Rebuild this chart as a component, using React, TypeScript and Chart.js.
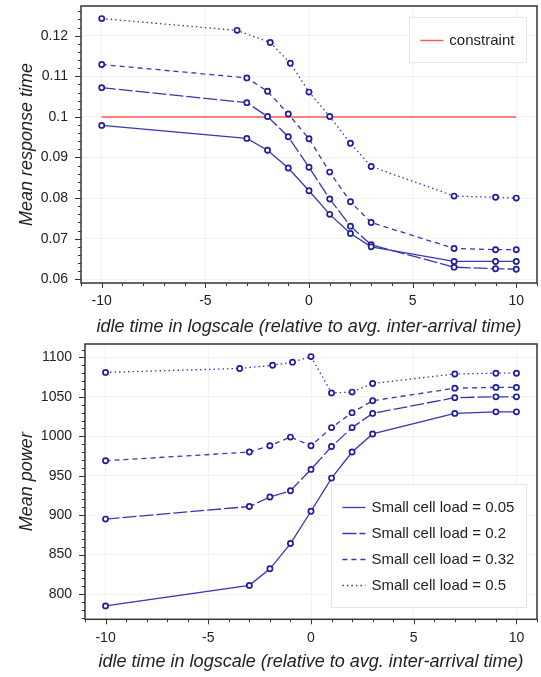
import React, { useEffect, useRef } from "react";
import { Chart, registerables } from "chart.js";

Chart.register(...registerables);

// ---------- data ----------
const xMain = [-10, -3, -2, -1, 0, 1, 2, 3, 7, 9, 10];
const xHighLoad = [-10, -3.47, -1.87, -0.9, 0, 1, 2, 3, 7, 9, 10];

const loadLabels = [
  "Small cell load = 0.05",
  "Small cell load = 0.2",
  "Small cell load = 0.32",
  "Small cell load = 0.5",
];

const respTime005 = [0.0979, 0.0947, 0.0918, 0.0874, 0.0818, 0.076, 0.0713, 0.068, 0.0644, 0.0644, 0.0644];
const respTime02 = [0.1072, 0.1035, 0.1001, 0.0951, 0.0876, 0.0798, 0.0731, 0.0685, 0.063, 0.0626, 0.0625];
const respTime032 = [0.1129, 0.1096, 0.1063, 0.1007, 0.0946, 0.0864, 0.0791, 0.074, 0.0676, 0.0673, 0.0673];
const respTime05 = [0.1242, 0.1213, 0.1183, 0.1132, 0.1061, 0.1001, 0.0935, 0.0878, 0.0805, 0.0802, 0.08];

const constraintLabel = "constraint";
const constraintX = [-10, 10];
const constraintY = [0.1, 0.1];

const power005 = [785, 811, 832, 864, 905, 947, 980, 1003, 1029, 1031, 1031];
const power02 = [895, 911, 923, 931, 958, 987, 1011, 1029, 1049, 1050, 1050];
const power032 = [969, 980, 988, 999, 988, 1011, 1030, 1045, 1061, 1062, 1062];
const power05 = [1081, 1086, 1090, 1094, 1101, 1055, 1056, 1067, 1079, 1080, 1080];

const xTitle = "idle time in logscale (relative to avg. inter-arrival time)";
const yTitleTop = "Mean response time";
const yTitleBottom = "Mean power";

// ---------- style ----------
const FONT = '"Liberation Sans", Arial, Helvetica, sans-serif';
const LINE = "rgb(55,55,175)";
const POINT = "rgb(30,30,155)";
const GRID = "rgba(0,0,0,0.05)";
const TEXT = "#222";
const DASHES = [[], [14, 3], [5, 4], [1.5, 3]];

function seriesDataset(label: string, xs: number[], ys: number[], dash: number[]) {
  return {
    label,
    data: xs.map((x, i) => ({ x, y: ys[i] })),
    borderColor: LINE,
    borderWidth: 1.3,
    borderDash: dash,
    pointRadius: 2.6,
    pointBorderWidth: 1.7,
    pointBackgroundColor: "#ffffff",
    pointBorderColor: POINT,
    pointHoverRadius: 2.6,
    fill: false,
    tension: 0,
  };
}

function stepTicks(step: number) {
  return (scale: any) => {
    const out: { value: number }[] = [];
    const k0 = Math.ceil(scale.min / step - 1e-9);
    const k1 = Math.floor(scale.max / step + 1e-9);
    for (let k = k0; k <= k1; k++) out.push({ value: Number((k * step).toFixed(6)) });
    scale.ticks = out;
  };
}

const frameTicksPlugin = {
  id: "frameTicks",
  beforeDatasetsDraw(chart: any, _a: any, opts: any) {
    const { ctx, chartArea: a, scales } = chart;
    const xs = scales.x;
    const ys = scales.y;
    ctx.save();
    ctx.strokeStyle = "#333";
    ctx.lineWidth = 1;
    const drawAxisTicks = (scale: any, minor: number, major: number, horizontal: boolean) => {
      const k0 = Math.ceil(scale.min / minor - 1e-9);
      const k1 = Math.floor(scale.max / minor + 1e-9);
      for (let k = k0; k <= k1; k++) {
        const v = k * minor;
        const r = v / major;
        const isMajor = Math.abs(r - Math.round(r)) < 1e-6;
        const p = Math.round(scale.getPixelForValue(v)) + 0.5;
        ctx.beginPath();
        if (horizontal) {
          const len = isMajor ? 5 : 3;
          ctx.moveTo(p, a.bottom);
          ctx.lineTo(p, a.bottom + len);
        } else {
          const len = isMajor ? 6 : 3;
          ctx.moveTo(a.left, p);
          ctx.lineTo(a.left - len, p);
        }
        ctx.stroke();
      }
    };
    drawAxisTicks(xs, opts.xMinor, opts.xMajor, true);
    drawAxisTicks(ys, opts.yMinor, opts.yMajor, false);
    ctx.strokeStyle = "#333";
    ctx.lineWidth = 1.5;
    ctx.strokeRect(a.left, a.top, a.right - a.left, a.bottom - a.top);
    ctx.restore();
  },
};

const boxLegendPlugin = {
  id: "boxLegend",
  afterDraw(chart: any, _a: any, opts: any) {
    const { ctx, chartArea } = chart;
    const items = chart.data.datasets.filter((d: any) => opts.labels.includes(d.label));
    ctx.save();
    ctx.font = `15px ${FONT}`;
    const textW = Math.max(...items.map((d: any) => ctx.measureText(d.label).width));
    const w = 11 + 23 + 6 + textW + 12;
    const h = items.length * 26 + 19;
    const x = chartArea.right - 10.6 - w;
    const y = opts.corner === "top" ? chartArea.top + 11.3 : chartArea.bottom - 12.3 - h;
    ctx.fillStyle = "#ffffff";
    ctx.fillRect(x, y, w, h);
    ctx.strokeStyle = "#e6e6e6";
    ctx.lineWidth = 1;
    ctx.strokeRect(Math.round(x) + 0.5, Math.round(y) + 0.5, Math.round(w), Math.round(h));
    items.forEach((d: any, i: number) => {
      const cy = Math.round(y + 22.5 + i * 26) + 0.5;
      ctx.beginPath();
      ctx.setLineDash(d.borderDash || []);
      ctx.strokeStyle = d.borderColor;
      ctx.lineWidth = d.borderWidth;
      ctx.moveTo(x + 11, cy);
      ctx.lineTo(x + 34, cy);
      ctx.stroke();
      ctx.setLineDash([]);
      ctx.fillStyle = TEXT;
      ctx.textBaseline = "middle";
      ctx.textAlign = "left";
      ctx.fillText(d.label, x + 40, cy);
    });
    ctx.restore();
  },
};

function makeOptions(cfg: any) {
  return {
    animation: false,
    responsive: false,
    events: [],
    layout: { autoPadding: false, padding: { top: 6, right: 4, left: 0, bottom: 0 } },
    plugins: {
      legend: { display: false },
      tooltip: { enabled: false },
      frameTicks: { xMinor: 1, xMajor: 5, yMinor: cfg.yMinor, yMajor: cfg.yStep },
      boxLegend: { corner: cfg.legendCorner, labels: cfg.legendLabels },
    },
    scales: {
      x: {
        type: "linear",
        min: -11,
        max: 11,
        grid: { color: GRID, drawTicks: false },
        border: { display: false },
        afterBuildTicks: stepTicks(5),
        ticks: {
          padding: 10,
          color: TEXT,
          font: { family: FONT, size: 14 },
        },
        title: {
          display: true,
          text: xTitle,
          color: TEXT,
          font: { family: FONT, size: 18, style: "italic" },
          padding: { top: 0, bottom: cfg.xTitlePadBottom },
        },
        afterFit: (s: any) => {
          s.height = cfg.xHeight;
          s.paddingLeft = 0;
          s.paddingRight = 0;
          s.paddingTop = 0;
          s.paddingBottom = 0;
        },
      },
      y: {
        type: "linear",
        min: cfg.yMin,
        max: cfg.yMax,
        grid: { color: GRID, drawTicks: false },
        border: { display: false },
        afterBuildTicks: stepTicks(cfg.yStep),
        ticks: {
          padding: 13,
          color: TEXT,
          font: { family: FONT, size: 14 },
          callback: cfg.yFormat,
        },
        title: {
          display: true,
          text: cfg.yTitle,
          color: TEXT,
          font: { family: FONT, size: 18, style: "italic" },
          padding: { top: 16, bottom: 0 },
        },
        afterFit: (s: any) => {
          s.width = cfg.yWidth;
          s.paddingLeft = 0;
          s.paddingRight = 0;
          s.paddingTop = 0;
          s.paddingBottom = 0;
        },
      },
    },
  };
}

function ChartCanvas({ config, width, height }: { config: any; width: number; height: number }) {
  const ref = useRef<HTMLCanvasElement | null>(null);
  useEffect(() => {
    if (!ref.current) return;
    const chart = new Chart(ref.current, config);
    return () => chart.destroy();
  }, [config]);
  return <canvas ref={ref} width={width} height={height} style={{ width, height, display: "block" }} />;
}

const topConfig = {
  type: "line",
  data: {
    datasets: [
      seriesDataset(loadLabels[0], xMain, respTime005, DASHES[0]),
      seriesDataset(loadLabels[1], xMain, respTime02, DASHES[1]),
      seriesDataset(loadLabels[2], xMain, respTime032, DASHES[2]),
      seriesDataset(loadLabels[3], xHighLoad, respTime05, DASHES[3]),
      {
        label: constraintLabel,
        data: constraintX.map((x, i) => ({ x, y: constraintY[i] })),
        borderColor: "rgb(255,85,85)",
        borderWidth: 1.5,
        pointRadius: 0,
        fill: false,
      },
    ],
  },
  options: makeOptions({
    yMin: 0.0591,
    yMax: 0.1273,
    yStep: 0.01,
    yMinor: 0.002,
    yWidth: 81,
    xHeight: 55,
    xTitlePadBottom: 0,
    yTitle: yTitleTop,
    legendCorner: "top",
    legendLabels: [constraintLabel],
    yFormat: (v: any) => String(Number(Number(v).toFixed(3))),
  }),
  plugins: [frameTicksPlugin, boxLegendPlugin],
};

const bottomConfig = {
  type: "line",
  data: {
    datasets: [
      seriesDataset(loadLabels[0], xMain, power005, DASHES[0]),
      seriesDataset(loadLabels[1], xMain, power02, DASHES[1]),
      seriesDataset(loadLabels[2], xMain, power032, DASHES[2]),
      seriesDataset(loadLabels[3], xHighLoad, power05, DASHES[3]),
    ],
  },
  options: makeOptions({
    yMin: 768,
    yMax: 1117,
    yStep: 50,
    yMinor: 10,
    yWidth: 85,
    xHeight: 57.7,
    xTitlePadBottom: 4.5,
    yTitle: yTitleBottom,
    legendCorner: "bottom",
    legendLabels: loadLabels,
    yFormat: (v: any) => String(Math.round(Number(v))),
  }),
  plugins: [frameTicksPlugin, boxLegendPlugin],
};

export default function App() {
  return (
    <div style={{ position: "fixed", left: 0, top: 0, width: 541, height: 677, background: "#fff" }}>
      <div style={{ position: "absolute", left: 0, top: 0 }}>
        <ChartCanvas config={topConfig} width={541} height={338} />
      </div>
      <div style={{ position: "absolute", left: 0, top: 338 }}>
        <ChartCanvas config={bottomConfig} width={541} height={339} />
      </div>
    </div>
  );
}
